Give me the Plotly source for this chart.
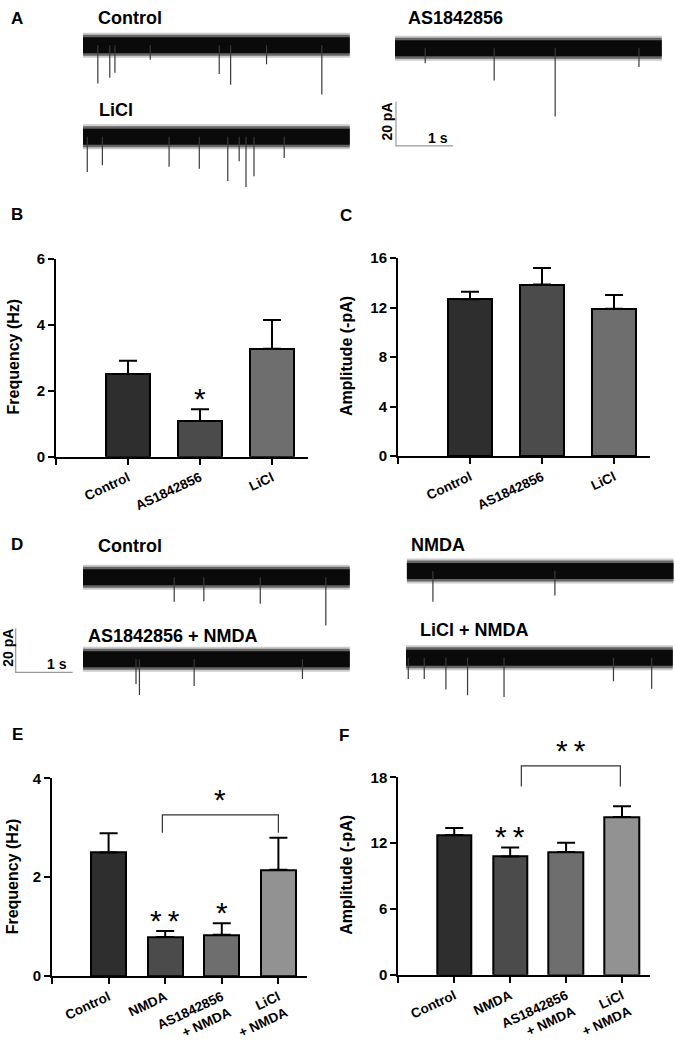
import plotly.graph_objects as go

W, H = 675, 1048
FONT = "Liberation Sans, Arial, Helvetica, sans-serif"

# ---------------- data ----------------
# Panel A / D recordings: spike times (s) and inward amplitudes (pA)
trace_duration_s = 4.68
a_control_t = [0.26, 0.47, 0.56, 1.18, 2.39, 2.59, 3.22, 4.19]
a_control_amp = [17.3, 14.7, 12.4, 6.5, 12.9, 17.8, 8.5, 22.2]
a_as_t = [0.53, 1.74, 2.81, 4.28]
a_as_amp = [6.7, 14.5, 30.8, 8.4]
a_licl_t = [0.075, 0.34, 1.51, 2.04, 2.54, 2.74, 2.86, 3.00, 3.53]
a_licl_amp = [15.9, 12.9, 13.6, 14.5, 20.0, 11.1, 22.7, 17.8, 9.6]
d_control_t = [1.60, 2.12, 3.11, 4.26]
d_control_amp = [11.0, 10.8, 11.9, 21.8]
d_nmda_t = [0.46, 2.60]
d_nmda_amp = [14.0, 11.1]
d_as_nmda_t = [0.93, 0.99, 1.95, 3.85]
d_as_nmda_amp = [11.1, 16.1, 12.1, 8.9]
d_licl_nmda_t = [0.04, 0.32, 0.70, 1.08, 1.72, 3.64, 4.31]
d_licl_nmda_amp = [9.6, 9.6, 14.4, 17.0, 17.8, 10.7, 14.1]
scale_bar_s = 1
scale_bar_pA = 20

# Panels B / C
bc_categories = ["Control", "AS1842856", "LiCl"]
b_freq = [2.51, 1.09, 3.28]
b_freq_sem = [0.40, 0.35, 0.87]
b_sig = ["", "*", ""]
c_amp = [12.67, 13.86, 11.90]
c_amp_sem = [0.60, 1.32, 1.10]
c_sig = ["", "", ""]

# Panels E / F
ef_categories = ["Control", "NMDA", "AS1842856<br>+ NMDA", "LiCl<br>+ NMDA"]
e_freq = [2.50, 0.79, 0.835, 2.15]
e_freq_sem = [0.39, 0.12, 0.235, 0.645]
e_sig = ["", "**", "*", ""]
e_bracket_x = [0.95, 3.0]
e_bracket_y = [2.90, 3.26]
e_bracket_sig = "*"
f_amp = [12.75, 10.78, 11.19, 14.39]
f_amp_sem = [0.62, 0.83, 0.84, 0.98]
f_sig = ["", "**", "", ""]
f_bracket_x = [1.2, 2.97]
f_bracket_y = [17.16, 19.04]
f_bracket_sig = "**"

bc_colors = ["#2e2e2e", "#4b4b4b", "#6e6e6e"]
ef_colors = ["#2e2e2e", "#4b4b4b", "#6e6e6e", "#929292"]

# ---------------- figure helpers ----------------
fig = go.Figure()
_n = [0]
annotations = []


def new_axes(x0, x1, ytop, ybot, xr, yr, xstyle=None, ystyle=None):
    _n[0] += 1
    n = _n[0]
    s = "" if n == 1 else str(n)
    xa = dict(domain=[x0 / W, x1 / W], range=xr, anchor="y" + s, visible=False,
              fixedrange=True, showgrid=False, zeroline=False)
    ya = dict(domain=[1 - ybot / H, 1 - ytop / H], range=yr, anchor="x" + s,
              visible=False, fixedrange=True, showgrid=False, zeroline=False)
    if xstyle:
        xa.update(xstyle)
    if ystyle:
        ya.update(ystyle)
    fig.update_layout({"xaxis" + s: xa, "yaxis" + s: ya})
    return "x" + s, "y" + s


PX_PER_S = 57.0
PX_PER_PA = 2.25


def rec_trace(x0px, yc_px, times, amps):
    width_px = 268
    above, below = 20, 75
    xr = [0, width_px / PX_PER_S]
    yr = [-below / PX_PER_PA, above / PX_PER_PA]
    xa, ya = new_axes(x0px, x0px + width_px, yc_px - above, yc_px + below, xr, yr)
    for col, wd in (("rgba(20,20,20,0.22)", 25), ("rgba(20,20,20,0.55)", 21),
                    ("#0a0a0a", 16)):
        fig.add_trace(go.Scatter(x=[0, trace_duration_s], y=[0, 0], mode="lines",
                                 line=dict(color=col, width=wd),
                                 xaxis=xa, yaxis=ya, hoverinfo="skip", showlegend=False))
    xs, ys = [], []
    for t, a in zip(times, amps):
        xs += [t, t, None]
        ys += [0, -a, None]
    fig.add_trace(go.Scatter(x=xs, y=ys, mode="lines",
                             line=dict(color="#3a3a3a", width=1.2),
                             xaxis=xa, yaxis=ya, hoverinfo="skip", showlegend=False))


def scale_bar(cx, cy, left=14):
    xa, ya = new_axes(cx - left, cx + 90, cy - 70, cy + 10,
                      [-left / PX_PER_S, 90 / PX_PER_S], [-10 / PX_PER_PA, 70 / PX_PER_PA])
    fig.add_trace(go.Scatter(x=[0, 0, scale_bar_s], y=[scale_bar_pA, 0, 0], mode="lines",
                             line=dict(color="#9a9a9a", width=1.2),
                             xaxis=xa, yaxis=ya, hoverinfo="skip", showlegend=False))
    annotations.append(dict(xref=xa, yref=ya, x=0.73 * scale_bar_s, y=3.7,
                            text="<b>%d s</b>" % scale_bar_s, showarrow=False,
                            font=dict(family=FONT, size=14, color="black")))
    annotations.append(dict(xref=xa, yref=ya, x=-0.15 * scale_bar_s, y=scale_bar_pA * 0.56,
                            text="<b>%d pA</b>" % scale_bar_pA, showarrow=False, textangle=-90,
                            font=dict(family=FONT, size=14, color="black")))


def text(xpx, ypx, s, size, xanchor="left", angle=0, bold=True):
    annotations.append(dict(xref="paper", yref="paper", x=xpx / W, y=1 - ypx / H,
                            text=("<b>%s</b>" % s) if bold else s, showarrow=False,
                            xanchor=xanchor, yanchor="middle", textangle=angle,
                            font=dict(family=FONT, size=size, color="black")))


STAR = 30


def bar_panel(x0, x1, ytop, ybot, cats, vals, sems, colors, ymax, dtick, xmax, sig,
              bracket=None):
    ax_line = dict(visible=True, showline=True, linecolor="black", linewidth=2,
                   ticks="outside", ticklen=6, tickwidth=2, tickcolor="black")
    xstyle = dict(ax_line, tickvals=[-1] + list(range(len(cats))),
                  ticktext=[""] + cats, tickangle=-25,
                  tickfont=dict(family=FONT, size=13.5, color="black", weight="bold"))
    ystyle = dict(ax_line, tickvals=list(range(0, int(ymax) + 1, dtick)),
                  tickfont=dict(family=FONT, size=15, color="black", weight="bold"))
    xa, ya = new_axes(x0, x1, ytop, ybot, [-1, xmax], [0, ymax], xstyle, ystyle)
    xs = list(range(len(cats)))
    fig.add_trace(go.Bar(x=xs, y=vals, width=0.62, marker=dict(color=colors,
                         line=dict(color="black", width=2)),
                         error_y=dict(type="data", array=sems, arrayminus=[0] * len(vals),
                                      symmetric=False, color="black", thickness=2, width=9),
                         xaxis=xa, yaxis=ya, hoverinfo="skip", showlegend=False))
    for i, s in enumerate(sig):
        if s:
            annotations.append(dict(xref=xa, yref=ya, x=i, y=vals[i] + sems[i],
                                    text=s.replace("**", "*\u2009*"), showarrow=False,
                                    yanchor="middle", yshift=11,
                                    font=dict(family=FONT, size=STAR, color="black")))
    if bracket:
        bx, by, bs = bracket
        ppu = (ybot - ytop) / ymax
        ext = ymax * 1.35
        xb, yb = new_axes(x0, x1, ybot - ext * ppu, ybot, [-1, xmax], [0, ext])
        fig.add_trace(go.Scatter(x=[bx[0], bx[0], bx[1], bx[1]],
                                 y=[by[0], by[1], by[1], by[0]], mode="lines",
                                 line=dict(color="#333333", width=1.2),
                                 xaxis=xb, yaxis=yb, hoverinfo="skip", showlegend=False))
        annotations.append(dict(xref=xb, yref=yb, x=(bx[0] + bx[1]) / 2, y=by[1],
                                text=bs.replace("**", "*\u2009*"), showarrow=False,
                                yanchor="middle", yshift=15,
                                font=dict(family=FONT, size=STAR, color="black")))
    return xa, ya


# ---------------- panel A ----------------
rec_trace(83, 37, a_control_t, a_control_amp)
rec_trace(395, 40, a_as_t, a_as_amp)
rec_trace(83, 130, a_licl_t, a_licl_amp)
scale_bar(396, 139.3)
text(17, 10, "A", 17, "center")
text(96, 9, "Control", 18)
text(406, 9, "AS1842856", 18)
text(97, 103, "LiCl", 18)

# ---------------- panels B, C ----------------
bar_panel(56, 308, 254.3, 455.7, bc_categories, b_freq, b_freq_sem, bc_colors,
          6, 2, 2.5, b_sig)
bar_panel(398, 650, 253.3, 455, bc_categories, c_amp, c_amp_sem, bc_colors,
          16, 4, 2.5, c_sig)
text(17, 209, "B", 17, "center")
text(346, 210, "C", 17, "center")
text(13.5, 354, "Frequency (Hz)", 16, "center", -90)
text(347, 353, "Amplitude (-pA)", 16, "center", -90)

# ---------------- panel D ----------------
rec_trace(83, 578.3, d_control_t, d_control_amp)
rec_trace(406.7, 571.7, d_nmda_t, d_nmda_amp)
rec_trace(83, 661.7, d_as_nmda_t, d_as_nmda_amp)
rec_trace(406, 660, d_licl_nmda_t, d_licl_nmda_amp)
scale_bar(15.7, 675, left=12)
text(17, 545, "D", 17, "center")
text(96, 546.7, "Control", 18)
text(409, 545, "NMDA", 18)
text(86, 637.5, "AS1842856 + NMDA", 18)
text(418, 631.7, "LiCl + NMDA", 18)

# ---------------- panels E, F ----------------
bar_panel(52, 306.7, 782.7, 984, ef_categories, e_freq, e_freq_sem, ef_colors,
          4, 2, 3.5, e_sig, (e_bracket_x, e_bracket_y, e_bracket_sig))
bar_panel(398.3, 650, 781.7, 982.7, ef_categories, f_amp, f_amp_sem, ef_colors,
          18, 6, 3.5, f_sig, (f_bracket_x, f_bracket_y, f_bracket_sig))
text(17, 738, "E", 17, "center")
text(344, 739, "F", 17, "center")
text(12.5, 883, "Frequency (Hz)", 16, "center", -90)
text(347, 881, "Amplitude (-pA)", 16, "center", -90)

fig.update_layout(width=W, height=H, margin=dict(l=0, r=0, t=0, b=0),
                  paper_bgcolor="white", plot_bgcolor="rgba(0,0,0,0)",
                  annotations=annotations, bargap=0, showlegend=False,
                  font=dict(family=FONT))
post = """
var de=document.documentElement, b=document.body;
de.style.margin='0'; de.style.padding='0'; b.style.margin='0'; b.style.padding='0';
b.style.overflow='hidden'; de.style.overflow='hidden';
var d=document.getElementsByClassName('plotly-graph-div')[0];
d.parentNode.style.margin='0'; d.parentNode.style.padding='0';
d.style.display='block';
"""
fig.write_html("out.html", config={"displayModeBar": False}, post_script=post)
